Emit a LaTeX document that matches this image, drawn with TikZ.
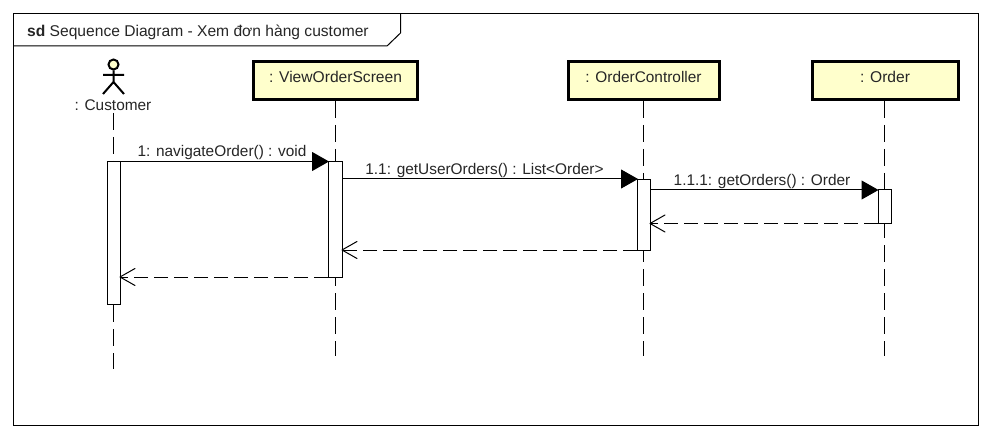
\documentclass[tikz,border=0pt]{standalone}
\usepackage{fontspec}
\setmainfont{Liberation Sans}
\usetikzlibrary{arrows.meta}
\definecolor{objfill}{HTML}{FFFFCC}
\tikzset{
  x=1pt,y=-1pt,
  lbl/.style={inner sep=0pt,anchor=base,font=\fontsize{15.6}{17}\selectfont,text=black!85},
  msglbl/.style={lbl,font=\fontsize{15.4}{17}\selectfont},
  objbox/.style={draw=black,fill=objfill,line width=3pt,inner sep=0pt,minimum height=38pt},
  actbar/.style={draw=black,fill=white,line width=1pt,inner sep=0pt,minimum width=13pt},
  lifeline/.style={line width=1pt,dash pattern=on 17pt off 7pt},
  callmsg/.style={line width=1pt,shorten >=-1pt,-{Triangle[length=17pt,width=19pt,fill=black]}},
  retmsg/.style={line width=1pt,shorten >=-1.5pt,dash pattern=on 14pt off 6pt,-{Straight Barb[length=15pt,width=17pt,line width=1pt,round]}},
  framepen/.style={line width=1pt,draw=black}
}
\begin{document}
\begin{tikzpicture}
\useasboundingbox (0,0) rectangle (992,438);
\fill[white] (0,0) rectangle (992,438);
% frame
\draw[framepen] (13.5,13.5) rectangle (978,425);
\draw[framepen] (13.5,46) -- (387,46) -- (400.5,33) -- (400.5,13.5);
\node[lbl,anchor=base west] (title) at (27,37) {\textbf{sd} Sequence Diagram - Xem đơn hàng customer};
% objects
\node[objbox,minimum width=164pt] (vos) at (335.5,80.5) {};
\node[objbox,minimum width=151pt] (ctl) at (643.5,80.5) {};
\node[objbox,minimum width=146pt] (ord) at (885,80.5) {};
\node[lbl] (vost) at (335.5,83) {: ViewOrderScreen};
\node[msglbl] (ctlt) at (643.5,83) {: OrderController};
\node[lbl] (ordt) at (885,83) {: Order};
% actor
\node[draw=black,fill=objfill,circle,line width=2pt,minimum size=10pt,inner sep=0pt] (head) at (113.5,64.5) {};
\coordinate (hip) at (113.5,82);
\coordinate (armL) at (103,75);
\coordinate (armR) at (124,75);
\coordinate (legL) at (103,94);
\coordinate (legR) at (124,94);
\draw[line width=2pt] (head.south) -- (hip) (armL) -- (armR) (legL) -- (hip) -- (legR);
\node[msglbl] (cust) at (113,111) {: Customer};
% lifeline ends
\coordinate (custTop) at (113.5,113);
\coordinate (custEnd) at (113.5,369);
\coordinate (vosEnd) at (335.5,356);
\coordinate (ctlEnd) at (643.5,356);
\coordinate (ordEnd) at (884,356);
\draw[lifeline] (custTop) -- (custEnd);
\draw[lifeline] (vos.south) -- (vosEnd);
\draw[lifeline] (ctl.south) -- (ctlEnd);
\draw[lifeline] (ord.south -| ordEnd) -- (ordEnd);
% activations
\node[actbar,minimum height=142.5pt,minimum width=13pt] (aC) at (114,233.25) {};
\node[actbar,minimum height=115.5pt,minimum width=14pt] (aV) at (335.5,219.75) {};
\node[actbar,minimum height=70pt] (aK) at (644,215) {};
\node[actbar,minimum height=34pt,minimum width=13.5pt] (aO) at (884.75,207) {};
% messages
\draw[callmsg] (aC.east |- 0,161.5) -- (aV.west |- 0,161.5);
\draw[callmsg] (aV.east |- 0,179) -- (aK.west |- 0,179);
\draw[callmsg] (aK.east |- 0,190) -- (aO.west |- 0,190);
\draw[retmsg] (aO.west |- 0,223.5) -- (aK.east |- 0,223.5);
\draw[retmsg] (aK.west |- 0,250) -- (aV.east |- 0,250);
\draw[retmsg] (aV.west |- 0,277) -- (aC.east |- 0,277);
\node[msglbl] (m1) at (222,156.5) {1: navigateOrder() : void};
\node[msglbl] (m2) at (484.5,174.5) {1.1: getUserOrders() : List<Order>};
\node[msglbl] (m3) at (762,185.5) {1.1.1: getOrders() : Order};
\end{tikzpicture}
\end{document}
